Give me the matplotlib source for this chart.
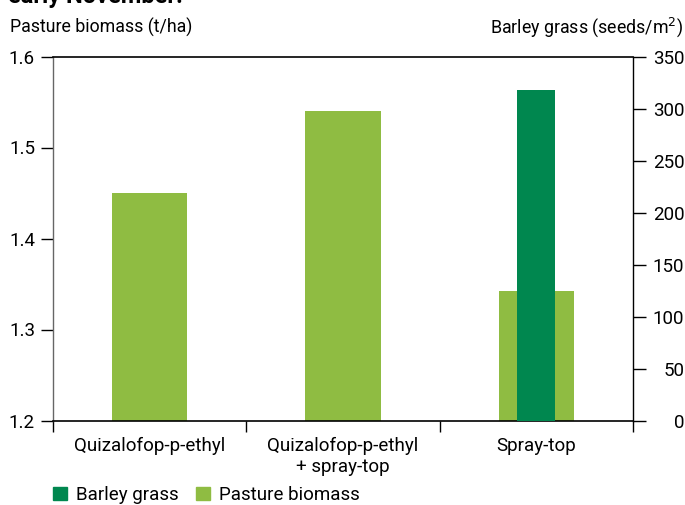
import matplotlib
matplotlib.use("Agg")
import matplotlib.pyplot as plt
from matplotlib.patches import Patch
import numpy as np

categories = ["Quizalofop-p-ethyl", "Quizalofop-p-ethyl\n+ spray-top", "Spray-top"]
pasture_biomass = [1.45, 1.54, 1.342]
barley_grass = [0, 0, 318]
left_ticks = [1.2, 1.3, 1.4, 1.5, 1.6]
right_ticks = [0, 50, 100, 150, 200, 250, 300, 350]

plt.rcParams['font.family'] = ['Roboto', 'DejaVu Sans']
DARK = "#00874f"
LIGHT = "#8fbc42"

W, H = 685, 505
fig = plt.figure(figsize=(W/100, H/100), dpi=100)
ax_l, ax_r, ax_b, ax_t = 53, 633, 420.5, 56.5
ax = fig.add_axes([ax_l/W, 1-ax_b/H, (ax_r-ax_l)/W, (ax_b-ax_t)/H])
ax2 = ax.twinx()

x = np.arange(len(categories))
ax.bar(x, [v - 1.2 for v in pasture_biomass], bottom=1.2, width=0.39, color=LIGHT, zorder=2)
ax2.bar(x, barley_grass, width=0.195, color=DARK, zorder=3)

ax.set_xlim(-0.5, 2.5)
ax.set_ylim(1.2, 1.6)
ax2.set_ylim(0, 350)

ax.set_yticks(left_ticks)
ax.set_yticklabels([f"{t:.1f}" for t in left_ticks])
ax2.set_yticks(right_ticks)
ax2.set_yticklabels([str(t) for t in right_ticks])
for lab in ax2.get_yticklabels():
    lab.set_horizontalalignment('right')

ax.set_xticks(x)
ax.set_xticklabels(categories)
ax.tick_params(axis='x', length=0, pad=12, labelsize=13.5)
ax.set_xticks([-0.5, 0.5, 1.5, 2.5], minor=True)
ax.tick_params(axis='x', which='minor', length=8, width=1, color='black', direction='out')
ax.tick_params(axis='y', length=9, width=1, color='black', labelsize=13.5, pad=4)
ax2.tick_params(axis='y', length=9, width=1, color='black', labelsize=13.5, pad=28)

for a in (ax, ax2):
    for s in a.spines.values():
        s.set_visible(False)
ax.spines['left'].set_visible(True)
ax.spines['left'].set_color('#666666')
ax.spines['left'].set_linewidth(1)
ax2.spines['right'].set_visible(True)
ax2.spines['right'].set_color('black')
ax2.spines['right'].set_linewidth(1)
ax.spines['bottom'].set_visible(True)
ax.spines['bottom'].set_color('black')
ax.spines['bottom'].set_linewidth(1.2)
ax.spines['top'].set_visible(True)
ax.spines['top'].set_color('black')
ax.spines['top'].set_linewidth(1.2)

fig.text(10/W, 1-27/H, "Pasture biomass (t/ha)", fontsize=12.8, ha='left', va='center')
fig.text(683/W, 1-27/H, "Barley grass (seeds/m$^2$)", fontsize=12.8, ha='right', va='center')
fig.text(8/W, 1+4/H, "early November.", fontsize=17, fontweight='bold', ha='left', va='center')

handles = [Patch(color=DARK, label="Barley grass"), Patch(color=LIGHT, label="Pasture biomass")]
fig.legend(handles=handles, loc='center left', bbox_to_anchor=(53/W, 1-495/H), ncol=2,
           frameon=False, fontsize=13.5, handlelength=0.75, handleheight=0.75,
           handletextpad=0.5, columnspacing=0.9, borderaxespad=0, borderpad=0)

fig.savefig("out.png", dpi=100)
